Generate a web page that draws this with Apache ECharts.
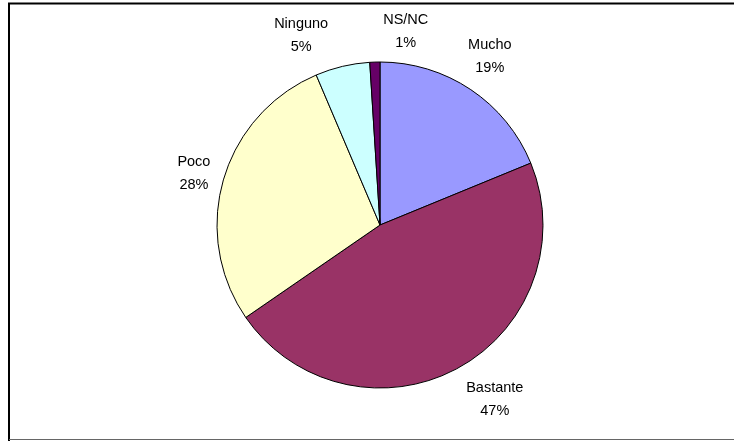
<!DOCTYPE html>
<html>
<head>
<meta charset="utf-8">
<script src="https://cdn.jsdelivr.net/npm/echarts@6/dist/echarts.min.js"></script>
<style>
html,body{margin:0;padding:0;background:#fff;}
#chart{width:734px;height:441px;}
</style>
</head>
<body>
<div id="chart"></div>
<script>
// Data
const categories = ['Mucho', 'Bastante', 'Poco', 'Ninguno', 'NS/NC'];
const values = [18.8, 46.6, 28.2, 5.4, 1.0];
const colors = ['#9999FF', '#993366', '#FFFFCC', '#CCFFFF', '#660066'];
const labelShiftX = [-6, 15, 10, -28, 37];
const labelShiftY = [-3, 0, 4, 4, 5];

const chart = echarts.init(document.getElementById('chart'), null, {renderer: 'canvas'});
const option = {
  backgroundColor: '#ffffff',
  animation: false,
  graphic: [
    {type: 'polyline', silent: true, shape: {points: [[9, 445], [9, 3.5], [740, 3.5]]}, style: {stroke: '#000', lineWidth: 2, fill: null}},
    {type: 'line', silent: true, shape: {x1: 9, y1: 439.5, x2: 740, y2: 439.5}, style: {stroke: '#666', lineWidth: 1}}
  ],
  series: [{
    type: 'pie',
    center: [380, 225],
    radius: 163,
    startAngle: 90,
    clockwise: true,
    avoidLabelOverlap: false,
    data: categories.map((c, i) => ({name: c, value: values[i], itemStyle: {color: colors[i]}})),
    itemStyle: {borderColor: '#000', borderWidth: 1},
    emphasis: {disabled: true},
    label: {
      show: true,
      position: 'outside',
      formatter: function (p) { return p.name + '\n' + Math.round(p.percent) + '%'; },
      fontFamily: 'Liberation Sans, Arial, sans-serif',
      fontSize: 14.5,
      lineHeight: 23,
      color: '#000',
      align: 'center'
    },
    labelLine: {show: false, length: 36, length2: 0},
    labelLayout: function (p) {
      return {align: 'center', verticalAlign: 'middle', dx: labelShiftX[p.dataIndex], dy: labelShiftY[p.dataIndex]};
    }
  }]
};
chart.setOption(option);
</script>
</body>
</html>
